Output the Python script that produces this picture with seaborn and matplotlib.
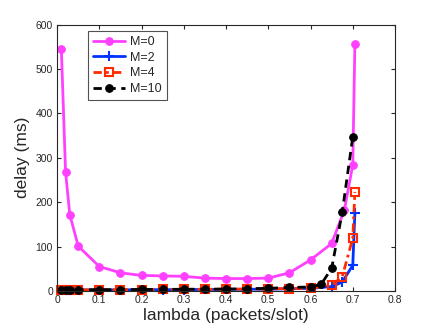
import matplotlib
matplotlib.use("Agg")
from matplotlib import pyplot as plt
import seaborn as sns

# lambda (packets/slot) and delay (ms) per M
x_m0 = [0.01, 0.02, 0.03, 0.05, 0.1, 0.15, 0.2, 0.25, 0.3, 0.35, 0.4, 0.45,
        0.5, 0.55, 0.6, 0.65, 0.68, 0.70, 0.705]
d_m0 = [545, 268, 172, 101, 55, 41, 35, 34, 33, 29, 28, 28,
        29, 41, 70, 107, 182, 284, 557]

x_m2 = [0.01, 0.02, 0.03, 0.05, 0.1, 0.15, 0.2, 0.25, 0.3, 0.35, 0.4, 0.45,
        0.5, 0.55, 0.6, 0.65, 0.675, 0.70, 0.705]
d_m2 = [2, 2, 2, 2, 2.5, 2.5, 3, 3, 3, 3.5, 3.5, 4,
        4, 5, 6, 10, 20, 58, 176]

x_m4 = [0.01, 0.02, 0.03, 0.05, 0.1, 0.15, 0.2, 0.25, 0.3, 0.35, 0.4, 0.45,
        0.5, 0.55, 0.6, 0.65, 0.675, 0.70, 0.705]
d_m4 = [2.5, 2.5, 2.5, 2.5, 3, 3, 3, 3.5, 3.5, 4, 4, 4.5,
        5, 5.5, 6, 13, 32, 119, 223]

x_m10 = [0.01, 0.02, 0.03, 0.05, 0.1, 0.15, 0.2, 0.25, 0.3, 0.35, 0.4, 0.45,
         0.5, 0.55, 0.6, 0.625, 0.65, 0.675, 0.70]
d_m10 = [3, 3, 3, 3, 3, 3, 3.5, 3.5, 4, 4, 4.5, 5,
         6, 8, 9, 15, 51, 177, 347]

labels = ['M=0', 'M=2', 'M=4', 'M=10']

sns.set_style("ticks")
plt.rcParams['font.family'] = ['Liberation Sans', 'DejaVu Sans']

fig = plt.figure(figsize=(4.36, 3.28), dpi=100)
ax = fig.add_axes([0.131, 0.1128, 0.775, 0.8125])

sns.lineplot(x=x_m0, y=d_m0, ax=ax, color='#ff40ff', lw=2, marker='o',
             markersize=5.5, markeredgecolor='#ff40ff', estimator=None, sort=False)
sns.lineplot(x=x_m2, y=d_m2, ax=ax, color='#0033ff', lw=2, marker='+',
             markersize=6.5, markeredgewidth=1.5, markeredgecolor='#0033ff',
             estimator=None, sort=False)
sns.lineplot(x=x_m4, y=d_m4, ax=ax, color='#ff2a00', lw=2, marker='s',
             markersize=6, markerfacecolor='none', markeredgecolor='#ff2a00',
             markeredgewidth=1.5, estimator=None, sort=False)
sns.lineplot(x=x_m10, y=d_m10, ax=ax, color='black', lw=2, marker='o',
             markersize=5.5, markeredgecolor='black', estimator=None, sort=False)

lines = ax.get_lines()
lines[2].set_dashes([3, 1.5, 1, 1.5])
lines[3].set_dashes([3, 2])
for ln, lab in zip(lines, labels):
    ln.set_label(lab)
    ln.set_clip_on(False)

ax.set_xlim(0, 0.8)
ax.set_ylim(0, 600)
ax.set_xticks([0, 0.1, 0.2, 0.3, 0.4, 0.5, 0.6, 0.7, 0.8])
ax.set_xticklabels(['0', '0.1', '0.2', '0.3', '0.4', '0.5', '0.6', '0.7', '0.8'])
ax.set_yticks(range(0, 601, 100))
ax.tick_params(direction='in', length=3, labelsize=7.5, top=True, right=True,
               colors='#262626', pad=3)
for s in ax.spines.values():
    s.set_color('#262626')
    s.set_linewidth(0.8)
ax.set_xlabel('lambda (packets/slot)', fontsize=12.5, labelpad=2)
ax.set_ylabel('delay (ms)', fontsize=12.5, labelpad=4)

leg = ax.legend(lines[:4], labels, loc='upper left', bbox_to_anchor=(0.09, 0.976),
                borderaxespad=0, fontsize=9, frameon=True, fancybox=False,
                edgecolor='#262626', handlelength=2.6, handletextpad=0.4,
                labelspacing=0.3, borderpad=0.4)
leg.get_frame().set_linewidth(0.8)

fig.savefig('out.png', dpi=100)
